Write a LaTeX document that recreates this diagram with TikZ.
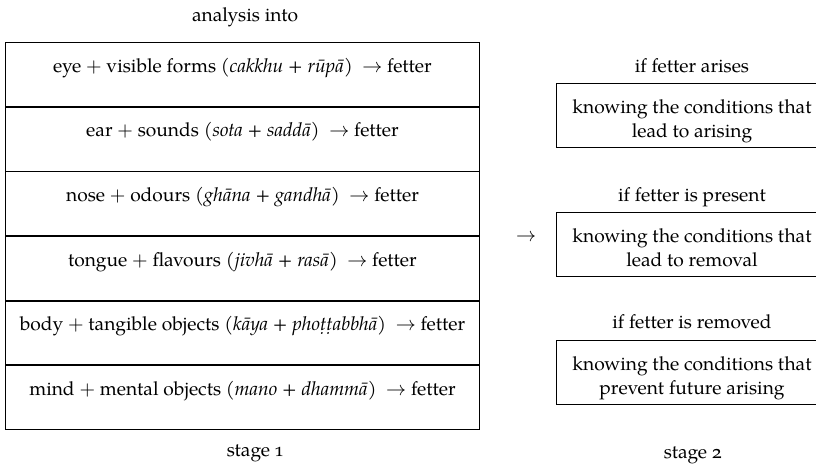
\documentclass[tikz,border=0pt]{standalone}
\usepackage{fontspec}
\setmainfont{TeX Gyre Pagella}[Numbers=OldStyle]
\usetikzlibrary{positioning}

\begin{document}
\begin{tikzpicture}[x=0.5pt,y=-0.5pt,font=\fontsize{9.6pt}{12pt}\selectfont]
\useasboundingbox (0,0) rectangle (816,474);

\node[anchor=base] (analysis) at (245,21.5) {analysis into};

% stage 1: the six sense bases
\begin{scope}[every node/.style={draw,anchor=north,minimum width=236.8pt,
              inner ysep=0pt,text height=14.8pt,text depth=17.1pt}]
    \node (eye) at (242.5,42.3) {eye $+$ visible forms (\textit{cakkhu} + \textit{rūpā})\ \ $\rightarrow$ fetter};
    \node (ear) [below=0pt of eye] {ear $+$ sounds (\textit{sota} + \textit{saddā})\ \ $\rightarrow$ fetter};
    \node (nose) [below=0pt of ear] {nose $+$ odours (\textit{ghāna} + \textit{gandhā})\ \ $\rightarrow$ fetter};
    \node (tongue) [below=0pt of nose] {tongue $+$ flavours (\textit{jivhā} + \textit{rasā})\ \ $\rightarrow$ fetter};
    \node (body) [below=0pt of tongue] {body $+$ tangible objects (\textit{kāya} + \textit{phoṭṭabbhā})\ \ $\rightarrow$ fetter};
    \node (mind) [below=0pt of body] {mind $+$ mental objects (\textit{mano} + \textit{dhammā})\ \ $\rightarrow$ fetter};
\end{scope}

\node[anchor=base] (lead) at (526,241.7) {$\rightarrow$};

% stage 2: knowing the conditions
\begin{scope}[every node/.style={draw,align=center,minimum width=136pt,
              inner ysep=0pt,text height=27pt,text depth=5pt}]
    \node (arises) [anchor=north] at (692,83.3) {knowing the conditions that\\lead to arising};
    \node (present) [below=32pt of arises] {knowing the conditions that\\lead to removal};
    \node (removed) [below=31.8pt of present] {knowing the conditions that\\prevent future arising};
\end{scope}

\begin{scope}[every node/.style={inner sep=0pt,text depth=0pt}]
    \node (ifarises) [above=5.2pt of arises] {if fetter arises};
    \node (ifpresent) [above=5.2pt of present] {if fetter is present};
    \node (ifremoved) [above=5.6pt of removed] {if fetter is removed};
\end{scope}

\node[anchor=base] (stageone) at (255,457) {stage 1};
\node[anchor=base] (stagetwo) at (693,459) {stage 2};
\end{tikzpicture}
\end{document}
